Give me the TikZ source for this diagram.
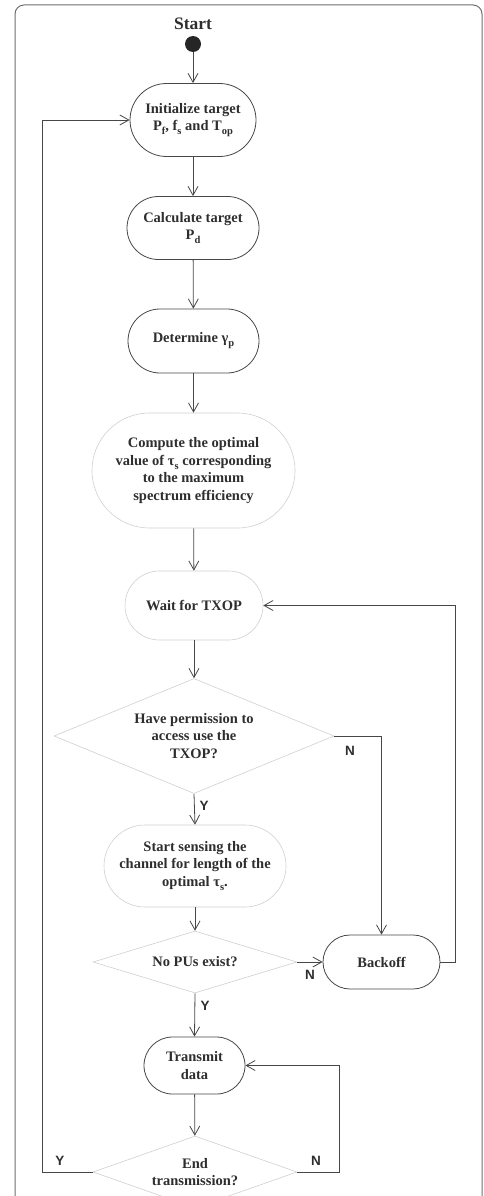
\documentclass[tikz,border=0pt]{standalone}
\usepackage{fontspec}
\setmainfont{Liberation Serif}
\newfontfamily\labelfont{Liberation Sans}
\usetikzlibrary{shapes.geometric,arrows.meta}
\definecolor{ln}{HTML}{474747}
\definecolor{lt}{HTML}{CFCFCF}
\definecolor{tx}{HTML}{2E2E2E}
\definecolor{fr}{HTML}{6E6E6E}
\newcommand{\sbx}[1]{\raisebox{-0.6ex}{\fontsize{10.5}{10.5}\selectfont #1}}
\tikzset{
  base/.style={align=center, text=tx, font=\fontsize{14.5}{17.5}\selectfont\bfseries, inner sep=0pt},
  darkbox/.style={base, draw=ln, line width=0.8pt, rectangle},
  lightbox/.style={base, draw=lt, line width=0.6pt, rectangle},
  decision/.style={base, draw=lt, line width=0.6pt, shape=diamond},
  flow/.style={draw=ln, line width=0.8pt, -{Straight Barb[length=9pt,width=10pt]}},
  yn/.style={text=tx, font=\labelfont\fontsize{13.5}{13.5}\selectfont\bfseries, inner sep=0pt},
  frame/.style={draw=fr, line width=1pt, rounded corners=9pt}
}
\begin{document}
\begin{tikzpicture}[x=1pt,y=-1pt]
\useasboundingbox (0,0) rectangle (484,1196);
\draw[frame] (15,5) rectangle (482,1250);

\node[base, font=\fontsize{17.5}{17.5}\selectfont\bfseries] (start) at (193,24) {Start};
\node[circle, fill=black!85, minimum size=16pt, inner sep=0pt] (dot) at (193,44) {};

\node[darkbox, minimum width=126pt, minimum height=73pt, rounded corners=36.5pt] (init) at (193,120)
  {Initialize target\\P\sbx{f}, f\sbx{s} and T\sbx{op}};
\node[darkbox, minimum width=132pt, minimum height=63pt, rounded corners=31.5pt] (calc) at (193,228)
  {Calculate target\\P\sbx{d}};
\node[darkbox, minimum width=131pt, minimum height=64pt, rounded corners=32pt] (det) at (193.5,341)
  {Determine γ\sbx{p}};
\node[lightbox, minimum width=203pt, minimum height=115pt, rounded corners=57.5pt] (comp) at (193.5,470.5)
  {Compute the optimal\\value of τ\sbx{s} corresponding\\to the maximum\\spectrum efficiency};
\node[lightbox, minimum width=138pt, minimum height=69pt, rounded corners=34.5pt] (wait) at (194,605.5)
  {Wait for TXOP};
\node[decision, shape aspect=2.43, minimum width=280pt, minimum height=115pt] (d1) at (194,736)
  {Have permission to\\access use the\\TXOP?};
\node[lightbox, minimum width=182pt, minimum height=82pt, rounded corners=41pt] (sense) at (195,866)
  {Start sensing the\\channel for length of the\\optimal τ\sbx{s}.};
\node[decision, shape aspect=3.29, minimum width=204pt, minimum height=62pt] (d2) at (195,962)
  {No PUs exist?};
\node[darkbox, minimum width=117pt, minimum height=54pt, rounded corners=27pt] (back) at (381.5,962)
  {Backoff};
\node[darkbox, minimum width=101pt, minimum height=57pt, rounded corners=28.5pt] (tx) at (194.5,1065.5)
  {Transmit\\data};
\node[decision, shape aspect=2.83, minimum width=204pt, minimum height=72pt] (d3) at (195,1172)
  {End\\transmission?};

\coordinate (rr) at (455,962);
\coordinate (ll) at (42,1172);
\coordinate (rt) at (339,1172);

\draw[flow] (dot) -- (init);
\draw[flow] (init) -- (calc);
\draw[flow] (calc) -- (det);
\draw[flow] (det) -- (comp);
\draw[flow] (comp) -- (wait);
\draw[flow] (wait) -- (d1);
\draw[flow] (d1.south) -- (sense.north);
\draw[flow] (sense) -- (d2);
\draw[flow] (d2.south) -- (tx.north);
\draw[flow] (tx) -- (d3);
\draw[flow] (d1.east) -| (back.north);
\draw[flow] (d2.east) -- (back.west);
\draw[flow] (back.east) -- (rr) |- (wait.east);
\draw[flow] (d3.west) -- (ll) |- (init.west);
\draw[flow] (d3.east) -- (rt) |- (tx.east);

\node[yn] (n1) at (350,751) {N};
\node[yn] (y1) at (204,806) {Y};
\node[yn] (n2) at (310,975) {N};
\node[yn] (y2) at (205,1006) {Y};
\node[yn] (y3) at (60,1161) {Y};
\node[yn] (n3) at (316,1161) {N};
\end{tikzpicture}
\end{document}
